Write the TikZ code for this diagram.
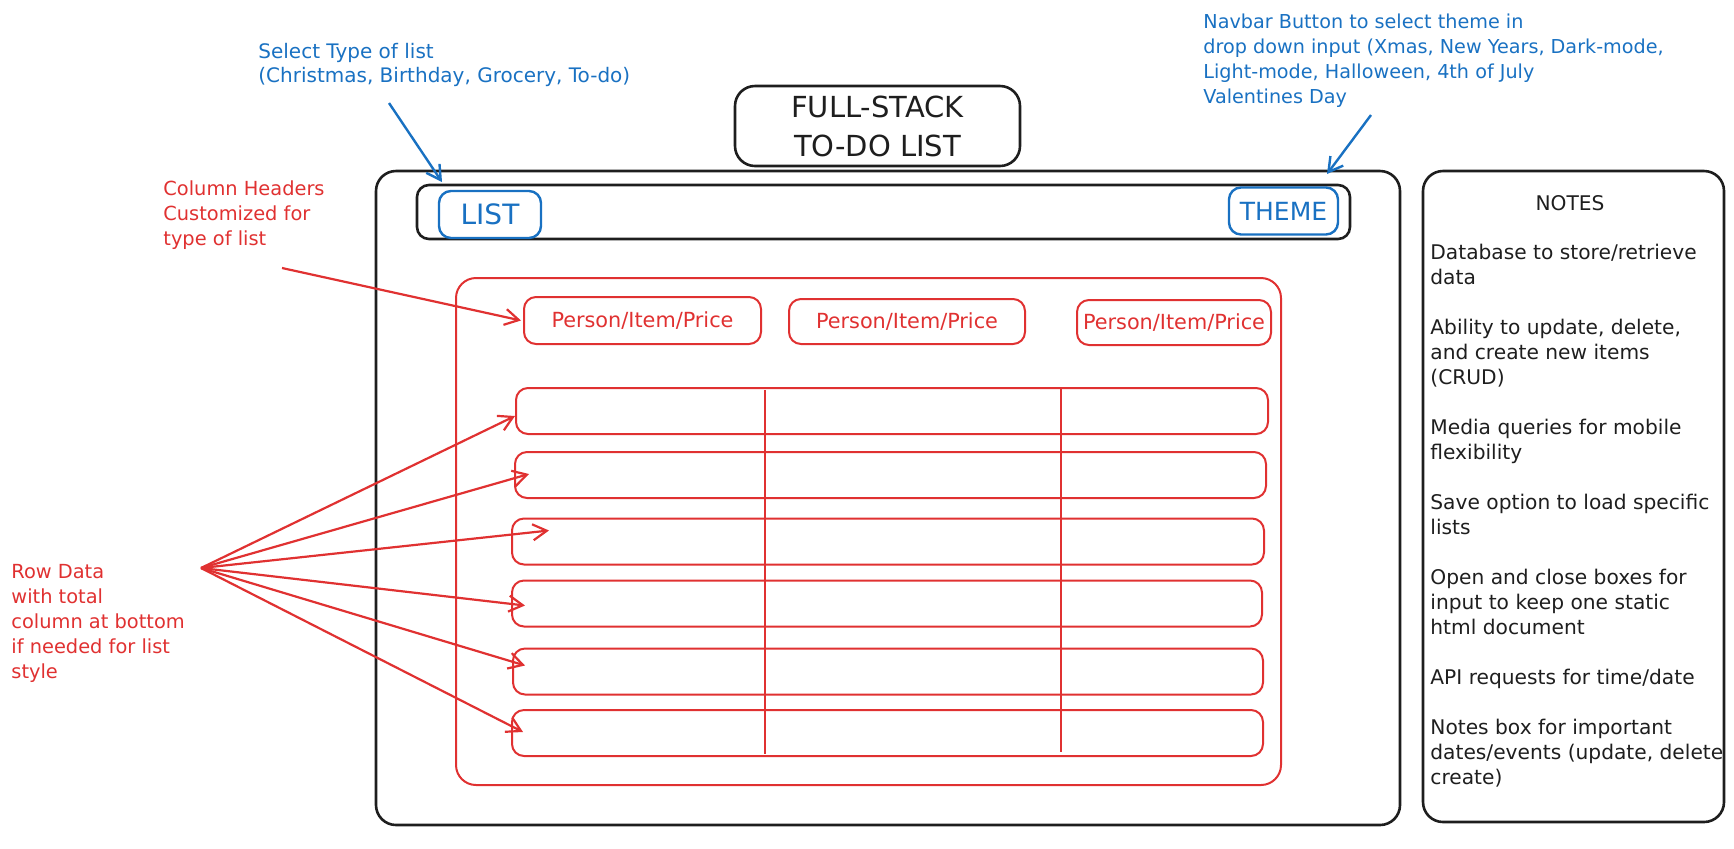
\documentclass[tikz,border=0pt]{standalone}
\usepackage{fontspec}
\setmainfont{DejaVu Sans}
\usetikzlibrary{arrows.meta,calc}
\definecolor{inkblack}{HTML}{1E1E1E}
\definecolor{skyblue}{HTML}{1971C2}
\definecolor{alertred}{HTML}{E03131}
\begin{document}
\begin{tikzpicture}[x=0.5pt,y=-0.5pt,
  frame/.style={draw=inkblack,line width=1.3pt,rounded corners=10pt,inner sep=0pt},
  bluebtn/.style={draw=skyblue,line width=1.2pt,rounded corners=6pt,text=skyblue,inner sep=0pt,
    font=\fontsize{12.5}{15}\selectfont},
  redbox/.style={draw=alertred,line width=1pt,rounded corners=6pt,text=alertred,inner sep=0pt},
  headbox/.style={redbox,font=\fontsize{10.4}{12}\selectfont},
  rowbox/.style={redbox,minimum height=23pt},
  bluenote/.style={text=skyblue,align=left,inner sep=0pt,anchor=north west,
    font=\fontsize{9.6}{12.5}\selectfont},
  rednote/.style={text=alertred,align=left,inner sep=0pt,anchor=north west,
    font=\fontsize{9.7}{12.5}\selectfont},
  blacknote/.style={text=inkblack,align=left,inner sep=0pt,anchor=north west,
    font=\fontsize{10.1}{12.5}\selectfont},
  bluearrow/.style={draw=skyblue,line width=1.2pt,-{Straight Barb[length=7pt,width=8pt]}},
  redarrow/.style={draw=alertred,line width=1.1pt,-{Straight Barb[length=7pt,width=8pt]}},
  divider/.style={draw=alertred,line width=1pt}
]
\useasboundingbox (0,0) rectangle (1734,848);

% title
\node[frame,minimum width=142.5pt,minimum height=40pt,align=center,
  font=\fontsize{14.5}{19.5}\selectfont,text=inkblack] (title) at (877.5,126) {FULL-STACK\\TO-DO LIST};

% main application frame and navbar
\node[frame,minimum width=512pt,minimum height=327pt] (app) at (888,498) {};
\node[frame,minimum width=466.5pt,minimum height=27pt,rounded corners=6pt] (navbar) at (883.5,212) {};
\node[bluebtn,minimum width=51pt,minimum height=23.5pt,font=\fontsize{14}{16}\selectfont] (listbtn) at (490,214.5) {LIST};
\node[bluebtn,minimum width=54.5pt,minimum height=23.5pt] (themebtn) at (1283.5,211) {THEME};

% list container
\node[redbox,rounded corners=10pt,minimum width=412.5pt,minimum height=253.5pt] (listarea) at (868.5,531.5) {};

% column headers
\node[headbox,minimum width=118.5pt,minimum height=23.5pt] (head1) at (642.5,320.5) {Person/Item/Price};
\node[headbox,minimum width=118pt,minimum height=22.5pt] (head2) at (907,321.5) {Person/Item/Price};
\node[headbox,minimum width=97pt,minimum height=22.5pt] (head3) at (1174,322.5) {Person/Item/Price};

% data rows
\node[rowbox,minimum width=376pt] (row1) at (892,411) {};
\node[rowbox,minimum width=375.5pt] (row2) at (890.5,475) {};
\node[rowbox,minimum width=376pt] (row3) at (888,541.5) {};
\node[rowbox,minimum width=375pt] (row4) at (887,603.5) {};
\node[rowbox,minimum width=375pt] (row5) at (888,671.5) {};
\node[rowbox,minimum width=375.5pt] (row6) at (887.5,733) {};

% column dividers
\draw[divider] (765,390) -- (765,754);
\draw[divider] (1061,389) -- (1061,752);

% notes panel
\node[frame,minimum width=150.5pt,minimum height=325.5pt] (notes) at (1573.5,496.5) {};
\node[text=inkblack,font=\fontsize{10.1}{12.5}\selectfont,inner sep=0pt] (notestitle) at (1570,203) {NOTES};
\node[blacknote] (notesbody) at (1430,243.5) {Database to store/retrieve\\
data\\[12.5pt]
Ability to update, delete,\\
and create new items\\
(CRUD)\\[12.5pt]
Media queries for mobile\\
flexibility\\[12.5pt]
Save option to load specific\\
lists\\[12.5pt]
Open and close boxes for\\
input to keep one static\\
html document\\[12.5pt]
API requests for time/date\\[12.5pt]
Notes box for important\\
dates/events (update, delete\\
create)};

% annotations
\node[bluenote,font=\fontsize{10}{12}\selectfont] (typenote) at (258,43) {Select Type of list\\(Christmas, Birthday, Grocery, To-do)};
\node[bluenote] (themenote) at (1203,14) {Navbar Button to select theme in\\
drop down input (Xmas, New Years, Dark-mode,\\
Light-mode, Halloween, 4th of July\\
Valentines Day};
\node[rednote] (headnote) at (163,180) {Column Headers\\Customized for\\type of list};
\node[rednote] (rownote) at (11,564) {Row Data\\with total\\column at bottom\\if needed for list\\style};

% annotation arrows
\coordinate (typestart) at (389,103);
\coordinate (themestart) at (1371,115);
\coordinate (headstart) at (282,268);
\coordinate (fan) at (201,568);

\draw[bluearrow] (typestart) -- (442,182);
\draw[bluearrow] (themestart) -- (1327,174);
\draw[redarrow] (headstart) -- ($(head1.west)+(-2,0)$);
\draw[redarrow] (fan) -- ($(row1.west)+(0,5)$);
\draw[redarrow] (fan) -- ($(row2.west)+(15,-1)$);
\draw[redarrow] (fan) -- ($(row3.west)+(38,-11)$);
\draw[redarrow] (fan) -- ($(row4.west)+(14,2)$);
\draw[redarrow] (fan) -- ($(row5.west)+(13,-6)$);
\draw[redarrow] (fan) -- ($(row6.west)+(12,-1)$);
\end{tikzpicture}
\end{document}
